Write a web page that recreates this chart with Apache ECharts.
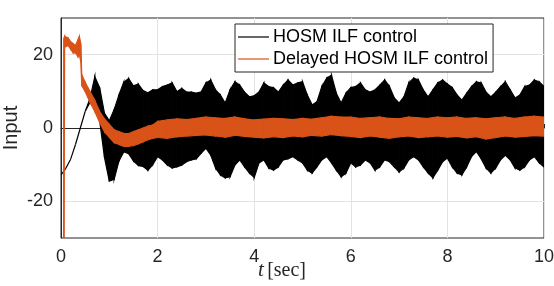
<!DOCTYPE html>
<html>
<head>
<meta charset="UTF-8">
<title>HOSM ILF input</title>
<script src="https://cdn.jsdelivr.net/npm/echarts@6/dist/echarts.min.js"></script>
<style>
  html, body { margin: 0; padding: 0; background: #fff; }
</style>
</head>
<body>
<div id="main" style="width:554px;height:286px;"></div>
<script>
// black signal: envelope every 0.1 s (t = 0 .. 10)
var blackStep = 0.1;
var blackHi = [
  -12.8, -11, -8.5, -4.5, 0, 4.5, 8, 14, 11, 4,
  2, 5, 9, 12.5, 13.5, 11.5, 12, 10.2, 9.6, 10.4,
  10.4, 11.3, 11.7, 12.3, 9.9, 10.8, 9.8, 9.8, 9.5, 9.8,
  12.3, 13.1, 10.4, 9, 6.8, 10.4, 12.6, 11.7, 9.8, 8.5,
  8.8, 9.8, 12.3, 11.3, 11, 9.8, 11.7, 13.1, 11.7, 12.3,
  12.6, 9, 6.3, 7.2, 11.3, 13.6, 14.4, 9.5, 6.8, 9.5,
  11, 11.3, 12.3, 10.4, 9.8, 10.4, 11.7, 13.1, 11.3, 8.2,
  6.8, 8.5, 12.3, 13.6, 13.1, 10.4, 8.5, 10.4, 12.3, 13.1,
  12, 11, 9, 7.6, 9.5, 11.3, 12.6, 12.3, 9.8, 8.5,
  9.8, 11.3, 12.6, 10.4, 8.2, 9, 11.3, 11.7, 13.1, 12.6,
  11.3
];
var blackLo = [
  -12.8, -11, -8.5, -4.5, 0, 4.5, 7, 6, 2, -8,
  -14.5, -14, -9, -6.5, -7, -9, -10.2, -10.5, -11.5, -10,
  -7.8, -8.7, -10.1, -10.9, -10.6, -10.1, -9.2, -8.7, -8.4, -6.9,
  -5.5, -7.4, -10.9, -12.8, -13.6, -13.3, -10.1, -8.7, -10.6, -12.3,
  -13.5, -9.5, -8.7, -10.9, -11.5, -10.6, -8.7, -8.4, -7.8, -8.7,
  -9.5, -11.5, -12.3, -10.6, -8.7, -7.8, -9.5, -11.5, -13.3, -12.3,
  -9.5, -10.6, -10.1, -8.7, -9.5, -11.5, -10.6, -8.7, -9.2, -10.6,
  -12, -10.9, -8.7, -7.8, -8.7, -10.6, -12.3, -13.6, -11.5, -9.2,
  -8.2, -10.6, -12.3, -12.8, -10.6, -7.8, -6.4, -8.4, -10.9, -12.3,
  -10.9, -8.7, -7.4, -8.7, -10.9, -11.5, -10.6, -8.7, -7.8, -9.5,
  -10.6
];

// orange (delayed) signal: envelope
var orangeT = [
  0, 0.055, 0.06, 0.075, 0.15, 0.2, 0.25, 0.3, 0.35, 0.38,
  0.41, 0.43, 0.5, 0.6, 0.7, 0.8, 0.9, 1.0, 1.1, 1.2,
  1.3, 1.4, 1.5, 1.6, 1.7, 1.8, 1.9,
  2.0, 2.2, 2.4, 2.6, 2.8, 3.0, 3.2, 3.4, 3.6, 3.8,
  4.0, 4.2, 4.4, 4.6, 4.8, 5.0, 5.2, 5.4, 5.6, 5.8,
  6.0, 6.2, 6.4, 6.6, 6.8, 7.0, 7.2, 7.4, 7.6, 7.8,
  8.0, 8.2, 8.4, 8.6, 8.8, 9.0, 9.2, 9.4, 9.6, 9.8, 10.0
];
var orangeHi = [
  -40, -40, 24.5, 25, 24.5, 23.5, 23, 22.5, 24, 25,
  23, 14.5, 12.5, 10, 7.5, 4.5, 2.5, 1, -0.5, -1,
  -1.5, -1.5, -1, -0.5, 0, 0.5, 0.8,
  1.8, 2.2, 2.5, 2.3, 2.6, 3.0, 2.8, 2.6, 3.0, 2.5,
  2.2, 2.4, 2.6, 2.5, 2.3, 2.6, 2.4, 2.8, 3.2, 3.0,
  3.0, 2.6, 2.8, 3.0, 2.6, 2.5, 3.0, 2.8, 2.6, 3.0,
  2.8, 3.0, 2.6, 2.8, 2.5, 2.8, 3.0, 2.6, 3.0, 3.2, 3.0
];
var orangeLo = [
  -40, -40, -40, 22, 22.5, 21.5, 20.5, 20.5, 19.5, 20,
  18, 11.5, 10, 7, 4.5, 1.5, -1, -2.5, -4, -4.5,
  -5, -5, -4.8, -4.3, -3.8, -3.2, -2.8,
  -2.6, -2.8, -2.4, -2.2, -2.0, -1.9, -2.2, -2.5, -2.0, -2.3,
  -2.5, -2.7, -2.4, -2.6, -2.2, -2.4, -2.0, -2.2, -1.8, -2.1,
  -2.3, -2.6, -2.2, -2.5, -2.8, -2.4, -2.2, -2.6, -2.4, -2.2,
  -2.5, -2.3, -2.7, -2.4, -3.0, -2.6, -2.2, -2.5, -2.3, -2.1, -2.2
];

var yTicks = [-20, 0, 20];
var names = ['HOSM ILF control', 'Delayed HOSM ILF control'];

var black = '#000000';
var orange = '#D95319';
var font = 'Liberation Sans, Arial, sans-serif';

var blackT = blackHi.map(function (v, i) { return +(i * blackStep).toFixed(2); });

// one data row per sample: [t, hi, lo]; each item paints the strip to the next sample
function rows(ts, hi, lo) {
  return ts.map(function (t, i) { return [t, hi[i], lo[i]]; });
}

function bandRenderer(ts, hi, lo, color) {
  return function (params, api) {
    var i = params.dataIndex;
    if (i >= ts.length - 1) return null;
    var a = api.coord([ts[i], hi[i]]);
    var b = api.coord([ts[i + 1], hi[i + 1]]);
    var c = api.coord([ts[i + 1], lo[i + 1]]);
    var d = api.coord([ts[i], lo[i]]);
    return {
      type: 'polygon',
      shape: { points: [a, b, c, d] },
      style: { fill: color, stroke: color, lineWidth: 1.2 }
    };
  };
}

var myChart = echarts.init(document.getElementById('main'));

var option = {
  animation: false,
  grid: {
    left: 61, right: 10, top: 18, bottom: 48,
    outerBoundsMode: 'none',
    show: true, borderColor: '#262626', borderWidth: 1
  },
  legend: {
    left: 235, top: 24,
    orient: 'vertical',
    data: [{ name: names[0], icon: 'rect' }, { name: names[1], icon: 'rect' }],
    itemWidth: 31, itemHeight: 1.2, itemGap: 4,
    padding: [4, 5, 4, 3],
    backgroundColor: '#fff',
    borderColor: '#262626', borderWidth: 1, borderRadius: 0,
    textStyle: { fontFamily: font, fontSize: 18, lineHeight: 18, color: '#000', padding: [0, 0, 0, -1] }
  },
  xAxis: {
    type: 'value', min: 0, max: 10, interval: 2,
    axisLine: { show: true, lineStyle: { color: '#262626' } },
    axisTick: { show: true, inside: true, length: 4, lineStyle: { color: '#262626' } },
    axisLabel: { fontFamily: font, fontSize: 18, color: '#262626', margin: 10 },
    splitLine: { show: true, lineStyle: { color: '#e3e3e3', width: 1 } }
  },
  yAxis: {
    type: 'value', min: -30, max: 30, interval: 10,
    name: 'Input', nameLocation: 'middle', nameGap: 40, nameMoveOverlap: false,
    nameTextStyle: { fontFamily: font, fontSize: 20, color: '#262626' },
    axisLine: { show: true, lineStyle: { color: '#262626' } },
    axisTick: { show: false },
    axisLabel: {
      fontFamily: font, fontSize: 18, color: '#262626', margin: 8,
      formatter: function (v) { return yTicks.indexOf(v) >= 0 ? String(v) : ''; }
    },
    splitLine: {
      show: true,
      lineStyle: { color: ['rgba(0,0,0,0)', '#e3e3e3'], width: 1 }
    }
  },
  graphic: [{
    type: 'text', left: 258, top: 260,
    style: {
      text: '{i|t} {r|[sec]}',
      rich: {
        i: { fontFamily: 'Liberation Serif, serif', fontStyle: 'italic', fontSize: 21, fill: '#262626' },
        r: { fontFamily: 'Liberation Serif, serif', fontSize: 20, fill: '#262626' }
      }
    }
  }],
  series: [
    {
      name: names[0], type: 'custom', clip: true,
      itemStyle: { color: black },
      encode: { x: 0, y: [1, 2] },
      data: rows(blackT, blackHi, blackLo),
      renderItem: bandRenderer(blackT, blackHi, blackLo, black)
    },
    {
      name: names[1], type: 'custom', clip: true,
      itemStyle: { color: orange },
      encode: { x: 0, y: [1, 2] },
      data: rows(orangeT, orangeHi, orangeLo),
      renderItem: bandRenderer(orangeT, orangeHi, orangeLo, orange)
    }
  ]
};
myChart.setOption(option);
</script>
</body>
</html>
